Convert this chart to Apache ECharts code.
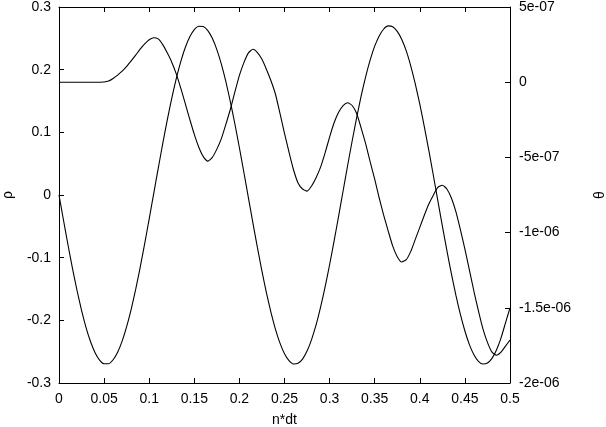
<!DOCTYPE html>
<html>
<head>
<meta charset="utf-8">
<script src="https://cdn.jsdelivr.net/npm/echarts@6/dist/echarts.min.js"></script>
<style>html,body{margin:0;padding:0;background:#fff}#c{width:606px;height:427px}</style>
</head>
<body>
<div id="c"></div>
<script>
// x sample positions (n*dt), every 0.005
var xs = [0,0.005,0.01,0.015,0.02,0.025,0.03,0.035,0.04,0.045,0.05,0.055,0.06,0.065,0.07,0.075,0.08,0.085,0.09,0.095,0.1,0.105,0.11,0.115,0.12,0.125,0.13,0.135,0.14,0.145,0.15,0.155,0.16,0.165,0.17,0.175,0.18,0.185,0.19,0.195,0.2,0.205,0.21,0.215,0.22,0.225,0.23,0.235,0.24,0.245,0.25,0.255,0.26,0.265,0.27,0.275,0.28,0.285,0.29,0.295,0.3,0.305,0.31,0.315,0.32,0.325,0.33,0.335,0.34,0.345,0.35,0.355,0.36,0.365,0.37,0.375,0.38,0.385,0.39,0.395,0.4,0.405,0.41,0.415,0.42,0.425,0.43,0.435,0.44,0.445,0.45,0.455,0.46,0.465,0.47,0.475,0.48,0.485,0.49,0.495,0.5];
// rho (left axis)
var rhoVals = [0,-0.0403,-0.0798,-0.1175,-0.1524,-0.1840,-0.2115,-0.2342,-0.2516,-0.2634,-0.2693,-0.2692,-0.2629,-0.2508,-0.2331,-0.2101,-0.1824,-0.1506,-0.1154,-0.0776,-0.0381,0.0023,0.0426,0.0819,0.1195,0.1543,0.1857,0.2129,0.2353,0.2524,0.2639,0.2694,0.2690,0.2624,0.2500,0.2319,0.2087,0.1808,0.1487,0.1133,0.0754,0.0359,-0.0045,-0.0448,-0.0841,-0.1215,-0.1562,-0.1872,-0.2143,-0.2364,-0.2533,-0.2644,-0.2696,-0.2685,-0.2619,-0.2491,-0.2307,-0.2074,-0.1790,-0.1467,-0.1113,-0.0733,-0.0336,0.0068,0.0471,0.0862,0.1235,0.1580,0.1890,0.2157,0.2375,0.2539,0.2649,0.2699,0.2685,0.2610,0.2482,0.2299,0.2058,0.1773,0.1449,0.1091,0.0711,0.0315,-0.0091,-0.0493,-0.0884,-0.1256,-0.1599,-0.1906,-0.2170,-0.2387,-0.2548,-0.2654,-0.2698,-0.2682,-0.2607,-0.2473,-0.2283,-0.2042,-0.1800];
// theta (right axis), read in units of 1e-7
var thetaVals1e7 = [0,0,0,0,0,0,0,0,0,0,0.01,0.08,0.25,0.47,0.73,1.05,1.42,1.80,2.20,2.55,2.82,2.96,2.88,2.50,1.95,1.33,0.55,-0.40,-1.43,-2.47,-3.47,-4.32,-4.95,-5.25,-5.00,-4.45,-3.75,-2.80,-1.80,-0.65,0.45,1.30,1.95,2.19,1.97,1.52,0.85,0.10,-0.80,-2.08,-3.40,-4.65,-5.82,-6.70,-7.10,-7.24,-6.90,-6.35,-5.65,-4.70,-3.65,-2.70,-2.00,-1.55,-1.37,-1.55,-2.08,-3.05,-4.10,-5.30,-6.45,-7.70,-8.85,-9.90,-10.90,-11.60,-11.95,-11.80,-11.25,-10.45,-9.65,-8.85,-8.10,-7.51,-7.00,-6.85,-7.10,-7.70,-8.60,-9.80,-11.10,-12.50,-13.90,-15.20,-16.40,-17.30,-17.95,-18.15,-17.95,-17.55,-17.15];
// tick labels
var xTickLabels = ['0','0.05','0.1','0.15','0.2','0.25','0.3','0.35','0.4','0.45','0.5'];
var rhoTickLabels = ['-0.3','-0.2','-0.1','0','0.1','0.2','0.3'];
var thetaTickLabels = ['-2e-06','-1.5e-06','-1e-06','-5e-07','0','5e-07'];

function pairs(x, y, k){ var out=[]; for (var i=0;i<x.length;i++) out.push([x[i], y[i]*k]); return out; }
function lab(arr, min, step){ return function(v){ var i=Math.round((v-min)/step); return arr[i]!==undefined?arr[i]:''; }; }

var font = {fontFamily:'Liberation Sans', fontSize:14, color:'#000'};
var axLine = {show:true, onZero:false, lineStyle:{color:'#000', width:1}};
var tick = {show:true, inside:true, length:5, lineStyle:{color:'#000'}};

var chart = echarts.init(document.getElementById('c'), null, {renderer:'canvas'});
chart.setOption({
  animation:false,
  backgroundColor:'#fff',
  grid:{left:59, right:96, top:7, bottom:44, containLabel:false, outerBoundsMode:'none'},
  xAxis:[
    {type:'value', min:0, max:0.5, interval:0.05, position:'bottom',
     axisLine:axLine, axisTick:tick, splitLine:{show:false},
     axisLabel:Object.assign({margin:9, formatter:lab(xTickLabels,0,0.05)}, font),
     name:'n*dt', nameLocation:'middle', nameGap:30, nameTextStyle:font},
    {type:'value', min:0, max:0.5, interval:0.05, position:'top',
     axisLine:axLine, axisTick:tick, splitLine:{show:false}, axisLabel:{show:false}}
  ],
  yAxis:[
    {type:'value', min:-0.3, max:0.3, interval:0.1, position:'left',
     axisLine:axLine, axisTick:tick, splitLine:{show:false},
     axisLabel:Object.assign({margin:8, formatter:lab(rhoTickLabels,-0.3,0.1)}, font),
     name:'ρ', nameLocation:'middle', nameGap:44, nameTextStyle:font},
    {type:'value', min:-2e-6, max:5e-7, interval:5e-7, position:'right',
     axisLine:axLine, axisTick:tick, splitLine:{show:false},
     axisLabel:Object.assign({margin:9, formatter:lab(thetaTickLabels,-2e-6,5e-7)}, font),
     name:'θ', nameLocation:'middle', nameGap:83, nameTextStyle:font}
  ],
  series:[
    {type:'line', name:'rho', xAxisIndex:0, yAxisIndex:0, data:pairs(xs,rhoVals,1), smooth:0.2, symbol:'none',
     lineStyle:{color:'#000', width:1.1}},
    {type:'line', name:'theta', xAxisIndex:0, yAxisIndex:1, data:pairs(xs,thetaVals1e7,1e-7), smooth:0.2, symbol:'none',
     lineStyle:{color:'#000', width:1.1}}
  ]
});
</script>
</body>
</html>
